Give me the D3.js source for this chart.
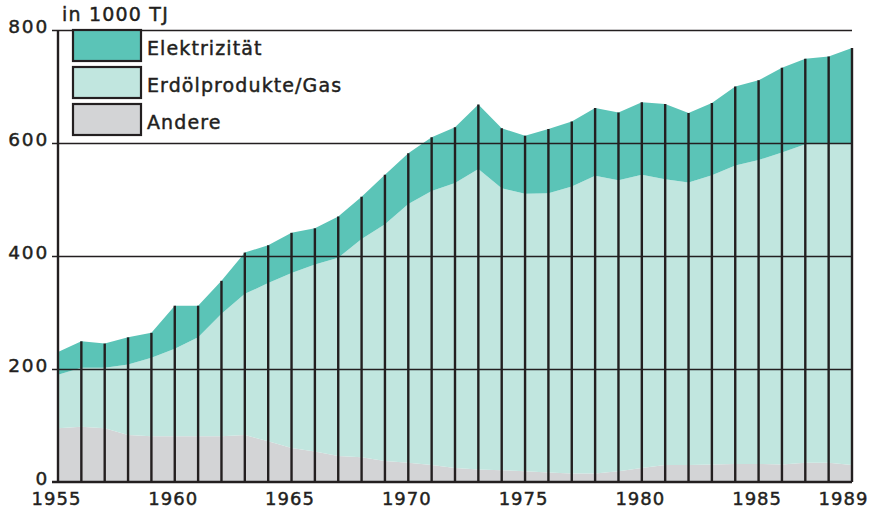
<!DOCTYPE html>
<html>
<head>
<meta charset="utf-8">
<script src="https://cdn.jsdelivr.net/npm/d3@7"></script>
<style>
  body { margin: 0; background: #fff; }
  svg text { font-family: "DejaVu Sans", sans-serif; fill: #231f20; stroke: #231f20; stroke-width: 0.45px; }
</style>
</head>
<body>
<svg width="877" height="510"></svg>
<script>
years = d3.range(1955, 1990)
andere = [95, 98, 95, 83, 81, 81, 81, 81, 83, 72, 60, 54, 46, 44, 37, 34, 30, 25, 22, 21,
          19, 17, 15, 15, 19, 25, 30, 30, 31, 32, 32, 31, 34, 34, 30]
erdoel = [95, 104, 107, 125, 139, 155, 175, 217, 250, 280, 310, 331, 351, 386, 419, 458, 485, 504, 532, 499,
          491, 494, 508, 527, 515, 519, 506, 500, 512, 528, 538, 552, 564, 566, 570]
elektrizitaet = [40, 47, 43, 48, 44, 76, 56, 58, 73, 67, 71, 64, 73, 75, 88, 90, 95, 99, 114, 106,
                 103, 114, 115, 120, 120, 128, 133, 123, 128, 140, 141, 150, 151, 153, 168]
seriesNames = ['Andere', 'Erdölprodukte/Gas', 'Elektrizität']
seriesColors = ['#d3d4d6', '#c1e6df', '#5bc4b7']
legendNames = ['Elektrizität', 'Erdölprodukte/Gas', 'Andere']
yTicks = [0, 200, 400, 600, 800]
xTicks = [1955, 1960, 1965, 1970, 1975, 1980, 1985, 1989]

X_LEFT = 58
X_RIGHT = 852
Y_BOTTOM = 482
Y_TOP = 30
INK = '#231f20'

rows = years.map(function (yr, i) {
  return {year: yr, 'Andere': andere[i], 'Erdölprodukte/Gas': erdoel[i], 'Elektrizität': elektrizitaet[i]}
})
stacked = d3.stack().keys(seriesNames)(rows)

x = d3.scaleLinear().domain([1955, 1989]).range([X_LEFT, X_RIGHT])
y = d3.scaleLinear().domain([0, 800]).range([Y_BOTTOM, Y_TOP])

svg = d3.select('svg')

// stacked bands
area = d3.area()
  .x(function (d) { return x(d.data.year) })
  .y0(function (d) { return y(d[0]) })
  .y1(function (d) { return y(d[1]) })

svg.append('g')
  .selectAll('path')
  .data(stacked)
  .enter()
  .append('path')
  .attr('d', area)
  .attr('fill', function (d, i) { return seriesColors[i] })

// horizontal grid + y labels
yAxis = svg.append('g')
  .attr('transform', 'translate(' + (X_LEFT - 6) + ',0)')
  .call(d3.axisLeft(y).tickValues(yTicks).tickSize(-(X_RIGHT - X_LEFT + 6)).tickPadding(3))
yAxis.select('.domain').remove()
yAxis.selectAll('line')
  .attr('stroke', INK)
  .attr('stroke-width', function (d) { return d == 0 ? 0 : 1.6 })
yAxis.selectAll('text')
  .attr('dy', '0.12em')
  .style('font-size', '18.5px')
  .style('letter-spacing', '1.8px')

// year lines, up to the total of each year
totals = stacked[stacked.length - 1]
svg.append('g')
  .selectAll('line')
  .data(totals)
  .enter()
  .append('line')
  .attr('x1', function (d) { return x(d.data.year) })
  .attr('x2', function (d) { return x(d.data.year) })
  .attr('y1', y(0))
  .attr('y2', function (d, i) { return i == 0 ? y(800) : y(d[1]) })
  .attr('stroke', INK)
  .attr('stroke-width', 2.4)

// x axis
xAxis = svg.append('g')
  .attr('transform', 'translate(0,' + Y_BOTTOM + ')')
  .call(d3.axisBottom(x).tickValues(xTicks).tickFormat(d3.format('d')).tickSize(0).tickPadding(10))
xAxis.select('.domain')
  .attr('d', 'M' + (X_LEFT - 6) + ',0H' + X_RIGHT)
  .attr('stroke', INK)
  .attr('stroke-width', 2.6)
xAxis.selectAll('text')
  .style('font-size', '18px')
  .style('letter-spacing', '1px')
  .attr('dx', function (d) { return d == 1989 ? -9 : -2 })

// unit
svg.append('text')
  .attr('x', 62)
  .attr('y', 21)
  .style('font-size', '19px')
  .style('letter-spacing', '1.2px')
  .text('in 1000 TJ')

// legend
legend = svg.append('g')
  .selectAll('g')
  .data(legendNames)
  .enter()
  .append('g')
  .attr('transform', function (d, i) { return 'translate(73,' + (30 + 37 * i) + ')' })
legend.append('rect')
  .attr('width', 68)
  .attr('height', 31)
  .attr('fill', function (d) { return seriesColors[seriesNames.indexOf(d)] })
  .attr('stroke', INK)
  .attr('stroke-width', 2.2)
legend.append('text')
  .attr('x', 74)
  .attr('y', 25)
  .style('font-size', '19px')
  .style('letter-spacing', '1.1px')
  .text(function (d) { return d })
</script>
</body>
</html>
